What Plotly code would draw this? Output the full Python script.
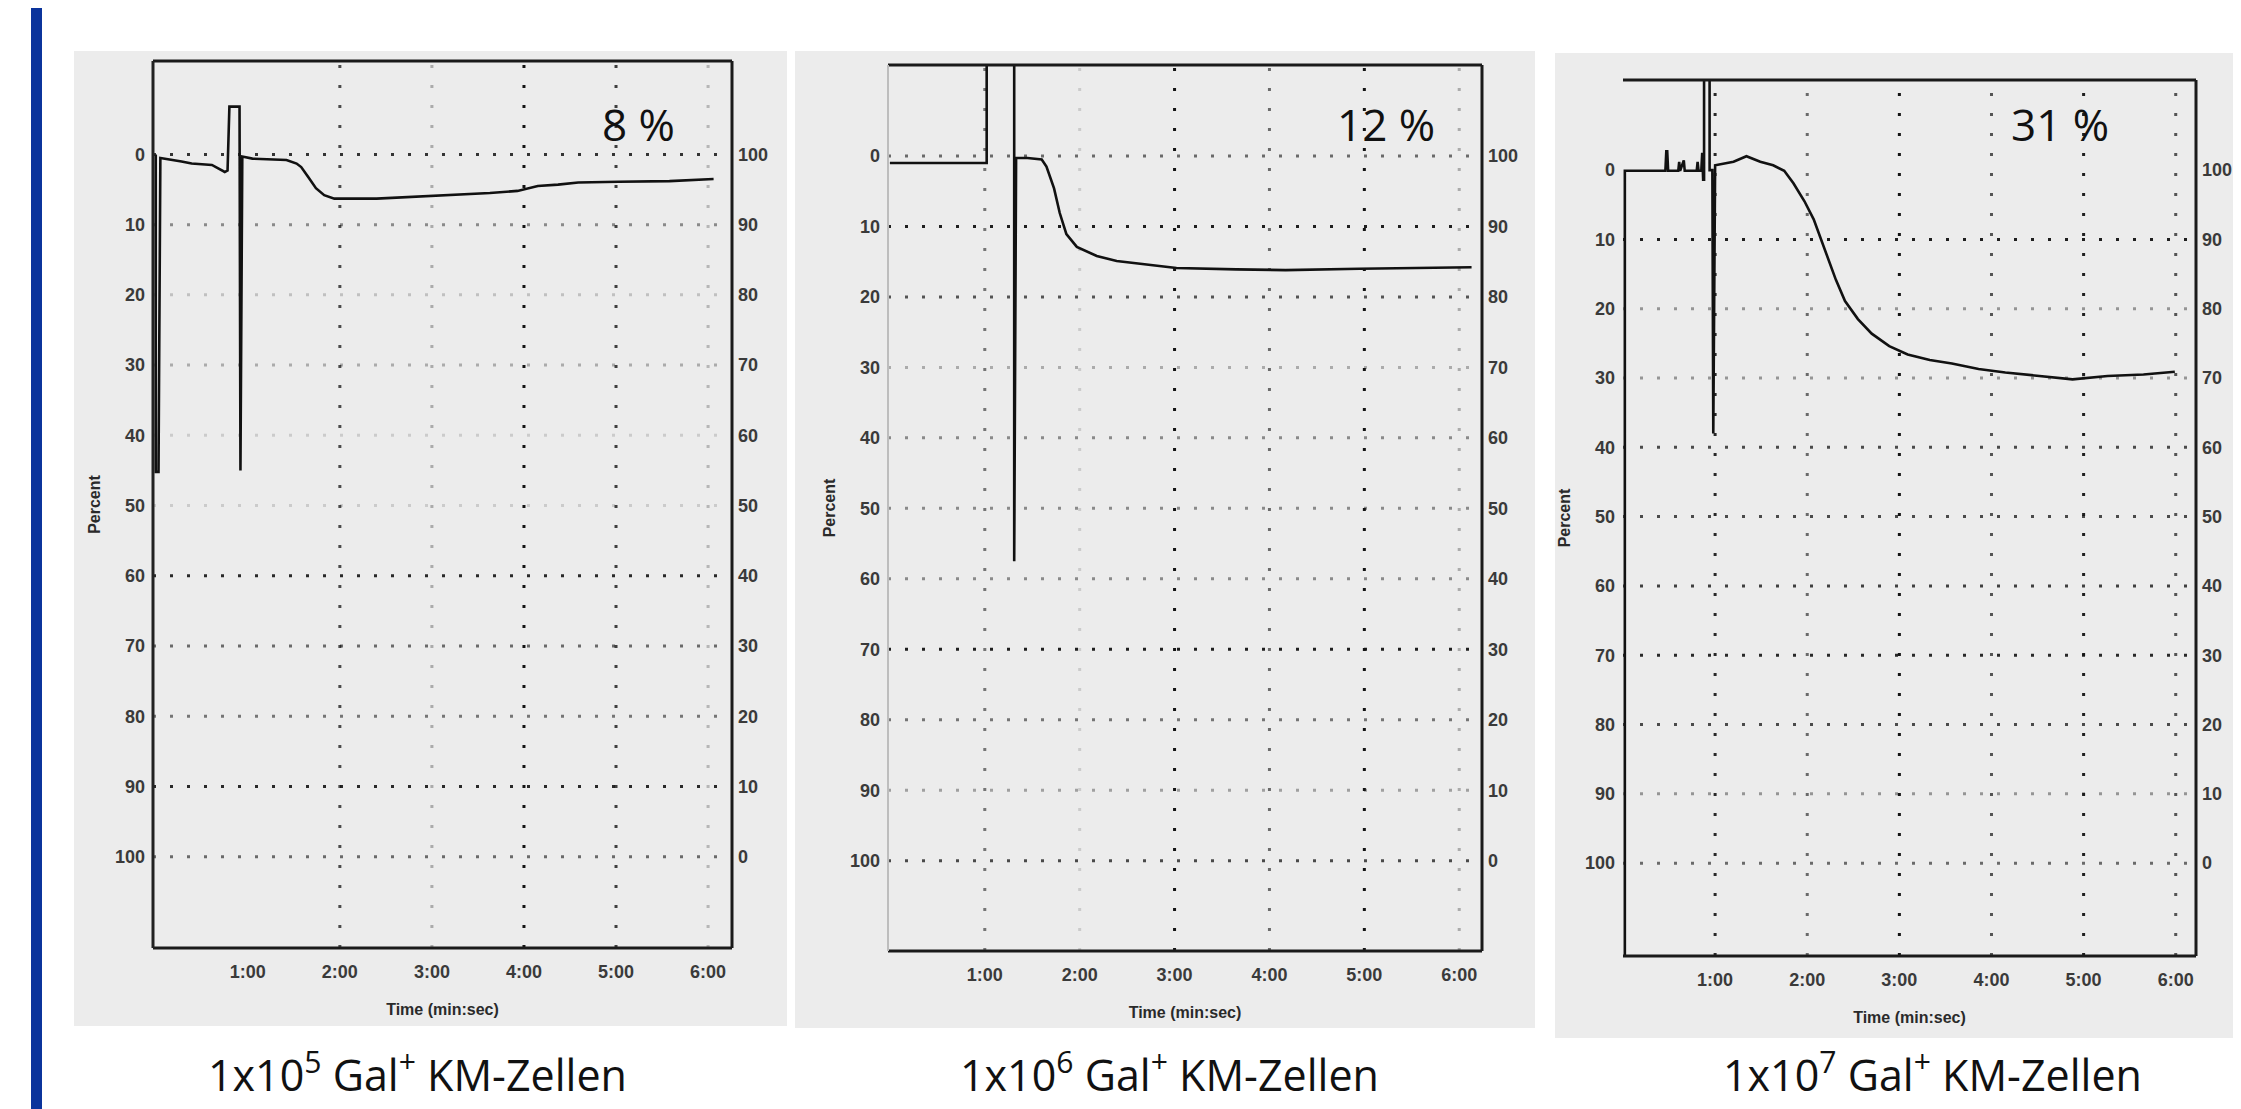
import plotly.graph_objects as go

# ---------------- data ----------------
minute_ticks = [1, 2, 3, 4, 5, 6]
minute_labels = ["1:00", "2:00", "3:00", "4:00", "5:00", "6:00"]
percent_ticks = [0, 10, 20, 30, 40, 50, 60, 70, 80, 90, 100]
percent_left_labels = ["0", "10", "20", "30", "40", "50", "60", "70", "80", "90", "100"]
percent_right_labels = ["100", "90", "80", "70", "60", "50", "40", "30", "20", "10", "0"]

# panel 1: 1x10^5 cells (time in min, aggregation in percent)
t1 = [0.00, 0.00, 0.03, 0.05, 0.28, 0.39, 0.61, 0.75, 0.78, 0.80, 0.81, 0.91, 0.92, 0.94,
      1.05, 1.42, 1.53, 1.58, 1.66, 1.74, 1.83, 1.94, 2.40, 2.93, 3.25, 3.63, 3.93, 4.15,
      4.37, 4.59, 5.03, 5.58, 6.06]
y1 = [0.0, 45.2, 45.2, 0.5, 1.0, 1.3, 1.5, 2.5, 2.3, -6.8, -6.8, -6.8, 45.0, 0.3,
      0.6, 0.8, 1.3, 1.8, 3.3, 4.8, 5.8, 6.3, 6.3, 6.0, 5.8, 5.5, 5.2, 4.5,
      4.3, 4.0, 3.9, 3.8, 3.5]

# panel 2: 1x10^6 cells
t2 = [0.00, 0.30, 0.60, 1.00, 1.02, 1.02, 1.31, 1.31, 1.33, 1.45, 1.60, 1.65, 1.73, 1.79,
      1.86, 1.97, 2.08, 2.18, 2.39, 2.70, 3.02, 3.65, 4.17, 4.95, 5.50, 6.13]
y2 = [1.0, 1.0, 1.0, 1.0, 1.0, -14.0, -14.0, 57.5, 0.3, 0.3, 0.5, 1.5, 4.6, 8.1,
      11.1, 12.9, 13.6, 14.2, 14.9, 15.4, 15.9, 16.1, 16.2, 16.0, 15.9, 15.8]

# panel 3: 1x10^7 cells
t3 = [0.02, 0.02, 0.06, 0.46, 0.47, 0.48, 0.49, 0.60, 0.61, 0.62, 0.66, 0.67, 0.80, 0.81,
      0.82, 0.85, 0.86, 0.87, 0.88, 0.88, 0.94, 0.94, 0.97, 0.98, 1.00, 1.10, 1.20, 1.34,
      1.49, 1.63, 1.75, 1.85, 1.97, 2.07, 2.14, 2.21, 2.31, 2.41, 2.55, 2.70, 2.89, 3.09,
      3.33, 3.57, 3.86, 4.15, 4.54, 4.88, 5.26, 5.65, 5.99]
y3 = [120.0, 0.1, 0.1, 0.1, -2.7, -2.7, 0.1, 0.1, -1.2, 0.1, -1.4, 0.1, 0.1, -1.2,
      0.1, 0.1, -2.5, 1.4, 1.4, -14.0, -14.0, 0.0, 0.0, 38.0, -0.7, -0.9, -1.2, -2.0,
      -1.2, -0.7, 0.1, 1.9, 4.5, 7.1, 9.6, 12.2, 15.8, 18.9, 21.5, 23.6, 25.4, 26.6,
      27.4, 27.9, 28.7, 29.2, 29.7, 30.2, 29.7, 29.5, 29.1]

percent_labels = ["8 %", "12 %", "31 %"]
captions = ["1x10<sup>5</sup> Gal<sup>+</sup> KM-Zellen",
            "1x10<sup>6</sup> Gal<sup>+</sup> KM-Zellen",
            "1x10<sup>7</sup> Gal<sup>+</sup> KM-Zellen"]

# ---------------- layout / style ----------------
W, H = 2241, 1109
TICK_FONT = dict(family="Liberation Sans, Arial, sans-serif", size=18, color="#3a3a3a",
                 weight="bold")
TITLE_FONT = dict(family="Liberation Sans, Arial, sans-serif", size=16, color="#2a2a2a",
                  weight="bold")
BIG_FONT = "Open Sans, Lato, sans-serif"

panels = [
    dict(t=t1, y=y1, box=(145, 53, 724, 940), xr=[-0.03, 6.26], yr=[113.0, -13.3],
         bg=(66, 43, 779, 1018), pct=(630, 116), cap=(409, 1064),
         vgrid={1: 0.0, 2: 0.75, 3: 0.3, 4: 1.0, 5: 0.8, 6: 0.25},
         hgrid={0: 0.85, 10: 0.45, 20: 0.2, 30: 0.3, 40: 0.15, 50: 0.15, 60: 0.9,
                70: 0.6, 80: 0.55, 90: 0.9, 100: 0.6},
         left_line=("#222222", 3)),
    dict(t=t2, y=y2, box=(880, 57, 1474, 943), xr=[-0.02, 6.24], yr=[112.8, -12.9],
         bg=(787, 43, 1527, 1020), pct=(1378, 116), cap=(1161, 1064),
         vgrid={1: 0.55, 2: 0.15, 3: 1.0, 4: 0.6, 5: 1.0, 6: 0.3},
         hgrid={0: 0.6, 10: 0.95, 20: 0.7, 30: 0.3, 40: 0.45, 50: 0.45, 60: 0.45,
                70: 0.95, 80: 0.55, 90: 0.35, 100: 0.75},
         left_line=("#bdbdbd", 2)),
    dict(t=t3, y=y3, box=(1615, 72, 2188, 948), xr=[0.0, 6.22], yr=[113.4, -13.0],
         bg=(1547, 45, 2241, 1030), pct=(2052, 116), cap=(1925, 1064),
         vgrid={1: 0.9, 2: 0.6, 3: 1.0, 4: 0.7, 5: 0.95, 6: 0.7},
         hgrid={0: 0.0, 10: 0.95, 20: 0.4, 30: 0.4, 40: 0.75, 50: 0.75, 60: 0.8,
                70: 0.9, 80: 0.75, 90: 0.4, 100: 0.6},
         left_line=None),
]


def px_x(v):
    return v / W


def px_y(v):
    return 1 - v / H


fig = go.Figure()
shapes = []
annotations = []

# blue side bar
shapes.append(dict(type="rect", xref="paper", yref="paper", x0=px_x(23), x1=px_x(34),
                   y0=0, y1=1, fillcolor="#0b349c", line=dict(width=0), layer="below"))

for i, p in enumerate(panels):
    n = i + 1
    xa = "x" if n == 1 else f"x{n}"
    ya = "y" if n == 1 else f"y{n}"
    yb = f"y{n + 3}"
    l, t, r, b = p["box"]

    # stippled paper background
    bl, bt, br, bb = p["bg"]
    shapes.append(dict(type="rect", xref="paper", yref="paper", x0=px_x(bl), x1=px_x(br),
                       y0=px_y(bb), y1=px_y(bt), fillcolor="#ececec",
                       line=dict(width=0), layer="below"))

    # grid lines (dotted, varying strength like the scan)
    for xv, a in p["vgrid"].items():
        if a <= 0:
            continue
        shapes.append(dict(type="line", xref=xa, yref=f"{ya} domain", x0=xv, x1=xv, y0=0, y1=1,
                           line=dict(color=f"rgba(20,20,20,{a})", width=3, dash="3px,17px"),
                           layer="above"))
    for yv, a in p["hgrid"].items():
        if a <= 0:
            continue
        shapes.append(dict(type="line", xref=f"{xa} domain", yref=ya, x0=0, x1=1, y0=yv, y1=yv,
                           line=dict(color=f"rgba(20,20,20,{a})", width=3, dash="3px,14px"),
                           layer="above"))

    # frame
    fr = dict(color="#1a1a1a", width=3)
    shapes.append(dict(type="line", xref=f"{xa} domain", yref=f"{ya} domain",
                       x0=0, x1=1, y0=1, y1=1, line=fr))
    shapes.append(dict(type="line", xref=f"{xa} domain", yref=f"{ya} domain",
                       x0=0, x1=1, y0=0, y1=0, line=fr))
    shapes.append(dict(type="line", xref=f"{xa} domain", yref=f"{ya} domain",
                       x0=1, x1=1, y0=0, y1=1, line=fr))
    if p["left_line"]:
        c, w = p["left_line"]
        shapes.append(dict(type="line", xref=f"{xa} domain", yref=f"{ya} domain",
                           x0=0, x1=0, y0=0, y1=1, line=dict(color=c, width=w)))

    # trace
    fig.add_trace(go.Scatter(x=p["t"], y=p["y"], mode="lines", xaxis=xa, yaxis=ya,
                             line=dict(color="#111111", width=2.6), hoverinfo="skip",
                             showlegend=False))
    # invisible helper trace for the right-hand axis
    fig.add_trace(go.Scatter(x=[3], y=[50], mode="markers", xaxis=xa, yaxis=yb,
                             marker=dict(opacity=0), hoverinfo="skip", showlegend=False))

    xkey = "xaxis" if n == 1 else f"xaxis{n}"
    ykey = "yaxis" if n == 1 else f"yaxis{n}"
    fig.update_layout({
        xkey: dict(domain=[px_x(l), px_x(r)], range=p["xr"], anchor=ya,
                   tickvals=minute_ticks, ticktext=minute_labels, showgrid=False,
                   zeroline=False, showline=False, ticks="", ticklabelstandoff=11,
                   tickfont=TICK_FONT,
                   title=dict(text="Time (min:sec)", font=TITLE_FONT, standoff=22)),
        ykey: dict(domain=[px_y(b), px_y(t)], range=p["yr"], anchor=xa,
                   tickvals=percent_ticks, ticktext=percent_left_labels, showgrid=False,
                   zeroline=False, showline=False, ticks="", ticklabelstandoff=7,
                   tickfont=TICK_FONT,
                   title=dict(text="Percent", font=TITLE_FONT, standoff=10)),
        f"yaxis{n + 3}": dict(overlaying=ya, side="right", anchor=xa, range=p["yr"],
                              tickvals=percent_ticks, ticktext=percent_right_labels,
                              showgrid=False, zeroline=False, showline=False, ticks="",
                              ticklabelstandoff=5, tickfont=TICK_FONT),
    })

    px_, py_ = p["pct"]
    annotations.append(dict(text=percent_labels[i], xref="paper", yref="paper",
                            x=px_x(px_), y=px_y(py_), xanchor="center", yanchor="middle",
                            showarrow=False, font=dict(family=BIG_FONT, size=44, color="#111111")))
    cx, cy = p["cap"]
    annotations.append(dict(text=captions[i], xref="paper", yref="paper",
                            x=px_x(cx), y=px_y(cy), xanchor="center", yanchor="middle",
                            showarrow=False, font=dict(family=BIG_FONT, size=43, color="#111111")))

fig.update_layout(width=W, height=H, margin=dict(l=0, r=0, t=0, b=0),
                  paper_bgcolor="white", plot_bgcolor="rgba(0,0,0,0)",
                  shapes=shapes, annotations=annotations, showlegend=False)

fig.write_html("out.html")
